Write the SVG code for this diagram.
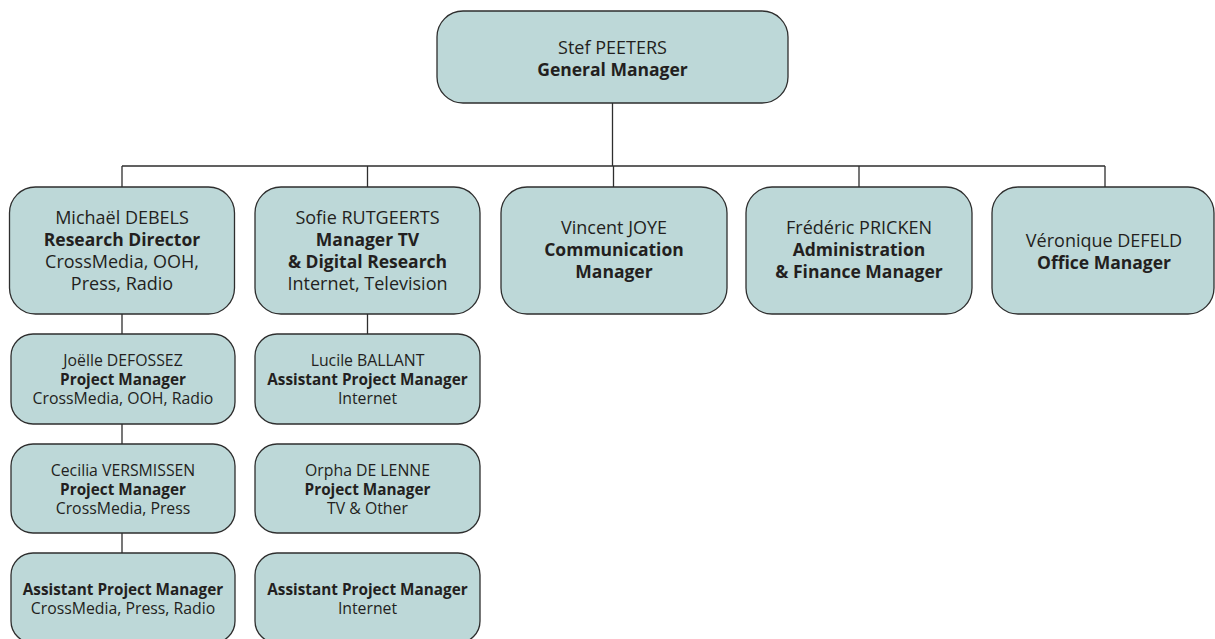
<svg xmlns="http://www.w3.org/2000/svg" width="1215" height="639" viewBox="0 0 1215 639">
<style>
.box{fill:#bdd8d8;stroke:#2e2e2e;stroke-width:1.3}
.ln{stroke:#2e2e2e;stroke-width:1.3;fill:none}
text{font-family:"Open Sans","Noto Sans",sans-serif;fill:#231f20;text-anchor:middle}
.l2{font-size:18px}
.l2.b{font-size:17.5px}
.l3{font-size:15.8px}
.l3.b{font-size:15.3px}
.b{font-weight:bold}
</style>
<rect width="1215" height="639" fill="#ffffff"/>
<g id="connectors">
<path class="ln" d="M612.5 103V166M122 166H1105M122 166V187M367.5 166V187M613.5 166V187M859 166V187M1105 166V187"/>
<path class="ln" d="M122 314V334M122 424V444M122 533V553M367.5 314V334"/>
</g>
<g id="n-peeters">
<rect class="box" x="437" y="11" width="351" height="92" rx="26"/>
<text class="l2" x="612.5" y="54">Stef PEETERS</text>
<text class="l2 b" x="612.5" y="76">General Manager</text>
</g>
<g id="n-debels">
<rect class="box" x="9.5" y="187" width="225" height="127" rx="26"/>
<text class="l2" x="122" y="224">Michaël DEBELS</text>
<text class="l2 b" x="122" y="246">Research Director</text>
<text class="l2" x="122" y="268">CrossMedia, OOH,</text>
<text class="l2" x="122" y="290">Press, Radio</text>
</g>
<g id="n-rutgeerts">
<rect class="box" x="255" y="187" width="225" height="127" rx="26"/>
<text class="l2" x="367.5" y="224">Sofie RUTGEERTS</text>
<text class="l2 b" x="367.5" y="246">Manager TV</text>
<text class="l2 b" x="367.5" y="268">&amp; Digital Research</text>
<text class="l2" x="367.5" y="290">Internet, Television</text>
</g>
<g id="n-joye">
<rect class="box" x="501" y="187" width="226" height="127" rx="26"/>
<text class="l2" x="614" y="234">Vincent JOYE</text>
<text class="l2 b" x="614" y="256">Communication</text>
<text class="l2 b" x="614" y="278">Manager</text>
</g>
<g id="n-pricken">
<rect class="box" x="746" y="187" width="226" height="127" rx="26"/>
<text class="l2" x="859" y="234">Frédéric PRICKEN</text>
<text class="l2 b" x="859" y="256">Administration</text>
<text class="l2 b" x="859" y="278">&amp; Finance Manager</text>
</g>
<g id="n-defeld">
<rect class="box" x="992" y="187" width="222" height="127" rx="26"/>
<text class="l2" x="1104" y="247">Véronique DEFELD</text>
<text class="l2 b" x="1104" y="269">Office Manager</text>
</g>
<g id="n-defossez">
<rect class="box" x="11" y="334" width="224" height="90" rx="22"/>
<text class="l3" x="123" y="366">Joëlle DEFOSSEZ</text>
<text class="l3 b" x="123" y="385">Project Manager</text>
<text class="l3" x="123" y="404">CrossMedia, OOH, Radio</text>
</g>
<g id="n-versmissen">
<rect class="box" x="11" y="444" width="224" height="89" rx="22"/>
<text class="l3" x="123" y="476">Cecilia VERSMISSEN</text>
<text class="l3 b" x="123" y="495">Project Manager</text>
<text class="l3" x="123" y="514">CrossMedia, Press</text>
</g>
<g id="n-apm1">
<rect class="box" x="11" y="553" width="224" height="90" rx="22"/>
<text class="l3 b" x="123" y="595">Assistant Project Manager</text>
<text class="l3" x="123" y="614">CrossMedia, Press, Radio</text>
</g>
<g id="n-ballant">
<rect class="box" x="255" y="334" width="225" height="90" rx="22"/>
<text class="l3" x="367.5" y="366">Lucile BALLANT</text>
<text class="l3 b" x="367.5" y="385">Assistant Project Manager</text>
<text class="l3" x="367.5" y="404">Internet</text>
</g>
<g id="n-delenne">
<rect class="box" x="255" y="444" width="225" height="89" rx="22"/>
<text class="l3" x="367.5" y="476">Orpha DE LENNE</text>
<text class="l3 b" x="367.5" y="495">Project Manager</text>
<text class="l3" x="367.5" y="514">TV &amp; Other</text>
</g>
<g id="n-apm2">
<rect class="box" x="255" y="553" width="225" height="90" rx="22"/>
<text class="l3 b" x="367.5" y="595">Assistant Project Manager</text>
<text class="l3" x="367.5" y="614">Internet</text>
</g>
</svg>
